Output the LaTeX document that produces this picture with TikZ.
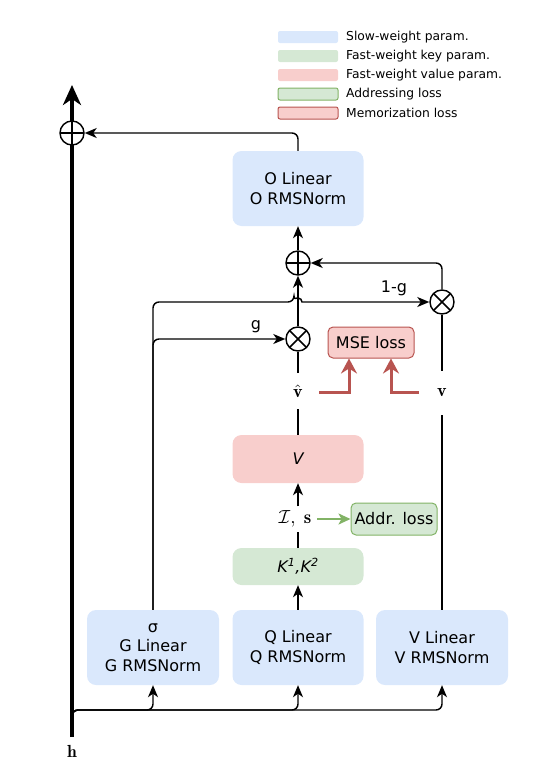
\documentclass[tikz,border=0pt]{standalone}
\usepackage{fontspec}
\newfontfamily\dvs{DejaVu Sans}
\usetikzlibrary{arrows.meta,calc}
\definecolor{slowc}{HTML}{DAE8FC}
\definecolor{keyc}{HTML}{D5E8D4}
\definecolor{keyd}{HTML}{82B366}
\definecolor{valc}{HTML}{F8CECC}
\definecolor{vald}{HTML}{B85450}
\begin{document}
\begin{tikzpicture}[x=1pt,y=-1pt,
  every node/.style={inner sep=0pt},
  lbl/.style={font=\dvs\fontsize{16}{19.5}\selectfont, align=center},
  legtx/.style={font=\dvs\fontsize{12.3}{14}\selectfont, anchor=west},
  legsw/.style={minimum width=60pt, minimum height=12pt, rounded corners=2pt},
  mth/.style={scale=1.75, transform shape},
  box/.style={lbl, rounded corners=9pt, minimum width=131pt},
  slow/.style={box, fill=slowc},
  keyb/.style={box, fill=keyc},
  valb/.style={box, fill=valc},
  ln/.style={line width=1.45pt},
  arr/.style={ln, -{Stealth[length=12pt,width=10pt,inset=3.5pt]}},
  rarr/.style={draw=vald, line width=3pt, -{Stealth[length=15pt,width=16pt,inset=5pt]}},
  garr/.style={draw=keyd, line width=2.2pt, -{Stealth[length=12pt,width=11pt,inset=3pt]}},
  opl/.style={circle, draw, line width=1.45pt, fill=white, minimum size=24pt,
    path picture={\draw[line width=1.45pt] (path picture bounding box.north) -- (path picture bounding box.south)
      (path picture bounding box.west) -- (path picture bounding box.east);}},
  otm/.style={circle, draw, line width=1.45pt, fill=white, minimum size=24pt,
    path picture={\draw[line width=1.45pt] (path picture bounding box.north west) -- (path picture bounding box.south east)
      (path picture bounding box.north east) -- (path picture bounding box.south west);}},
]
\useasboundingbox (0,0) rectangle (556,779);

% legend
\node[legsw, fill=slowc] (l1) at (308,37) {};
\node[legtx] at (346,37) {Slow-weight param.};
\node[legsw, fill=keyc] (l2) at (308,56) {};
\node[legtx] at (346,56) {Fast-weight key param.};
\node[legsw, fill=valc] (l3) at (308,75) {};
\node[legtx] at (346,75) {Fast-weight value param.};
\node[legsw, fill=keyc, draw=keyd, line width=1pt] (l4) at (308,94) {};
\node[legtx] at (346,94) {Addressing loss};
\node[legsw, fill=valc, draw=vald, line width=1pt] (l5) at (308,113) {};
\node[legtx] at (346,113) {Memorization loss};

% main residual stream
\coordinate (hbot) at (72,737);
\coordinate (htop) at (72,85);
\coordinate (fork) at (72,722);
\draw[line width=4pt, -{Stealth[length=20pt,width=18pt,inset=6pt]}] (hbot) -- (htop);
\node[opl] (pt) at (72,133) {};
\node[mth] (h) at (72,751) {$\mathbf{h}$};

% boxes
\node[slow, minimum height=75pt] (O) at (298,188.5) {O Linear\\O RMSNorm};
\node[valb, minimum height=48pt] (V) at (298,459) {\itshape V};
\node[keyb, minimum height=37pt] (K) at (298,566.5) {\itshape K\textsuperscript{1},K\textsuperscript{2}};
\node[slow, minimum height=75pt, minimum width=132pt] (G) at (153,647.5) {σ\\G Linear\\G RMSNorm};
\node[slow, minimum height=75pt] (Q) at (298,647.5) {Q Linear\\Q RMSNorm};
\node[slow, minimum height=75pt, minimum width=132pt] (VL) at (442,647.5) {V Linear\\V RMSNorm};
\node[lbl, fill=valc, draw=vald, line width=1pt, rounded corners=5pt, minimum width=86pt, minimum height=31pt] (mse) at (371,342.5) {MSE loss};
\node[lbl, fill=keyc, draw=keyd, line width=1pt, rounded corners=5pt, minimum width=86pt, minimum height=32pt] (addr) at (394,519) {Addr. loss};

% operators
\node[opl] (pm) at (298,263) {};
\node[otm] (mg) at (298,339) {};
\node[otm] (mr) at (442,302) {};

% labels
\node[mth, scale=1.03, minimum height=19.5pt] (vhat) at (298,391) {$\hat{\mathbf{v}}$};
\node[mth, scale=1.03, minimum height=24.5pt] (vv) at (442,393) {$\mathbf{v}$};
\node[mth, scale=1.08, minimum height=13pt, inner xsep=3pt] (is) at (295,519) {$\mathcal{I},\;\mathbf{s}$};
\node[lbl] (l1g) at (394,288) {1-g};
\node[lbl] (lg) at (256,327) {g};

% connectors
\draw[arr, rounded corners=6pt] (O.north) |- (pt.east);
\draw[arr] (pm.north) -- (O.south);
\draw[arr, rounded corners=6pt] (mr.north) |- (pm.east);
\draw[arr] (mg.north) -- (pm.south);
\coordinate (hopA) at (294,302);
\draw[arr] (G.north) [rounded corners=6pt] |- (hopA) [sharp corners] arc[start angle=180, end angle=360, radius=4] -- (mr.west);
\draw[arr, rounded corners=6pt] (G.north) |- (mg.west);
\draw[ln] (V.north) -- (vhat.south -| V.north);
\draw[ln] (vhat.north -| V.north) -- (mg.south);
\draw[ln] (VL.north) -- (vv.south -| VL.north);
\draw[ln] (vv.north -| VL.north) -- (mr.south);
\draw[ln] (K.north) -- (is.south -| K.north);
\draw[arr] (is.north -| V.south) -- (V.south);
\draw[arr] (Q.north) -- (K.south);
\draw[garr] (is.east) -- (addr.west);
\coordinate (r1) at (319,392);
\coordinate (r2) at (419,392);
\draw[rarr] (r1) -| ([xshift=-22pt]mse.south);
\draw[rarr] (r2) -| ([xshift=20pt]mse.south);
\draw[arr, rounded corners=6pt] (fork) |- (VL.south |- 0,710) -- (VL.south);
\draw[arr, rounded corners=6pt] (fork) |- (Q.south |- 0,710) -- (Q.south);
\draw[arr, rounded corners=6pt] (fork) |- (G.south |- 0,710) -- (G.south);
\end{tikzpicture}
\end{document}
